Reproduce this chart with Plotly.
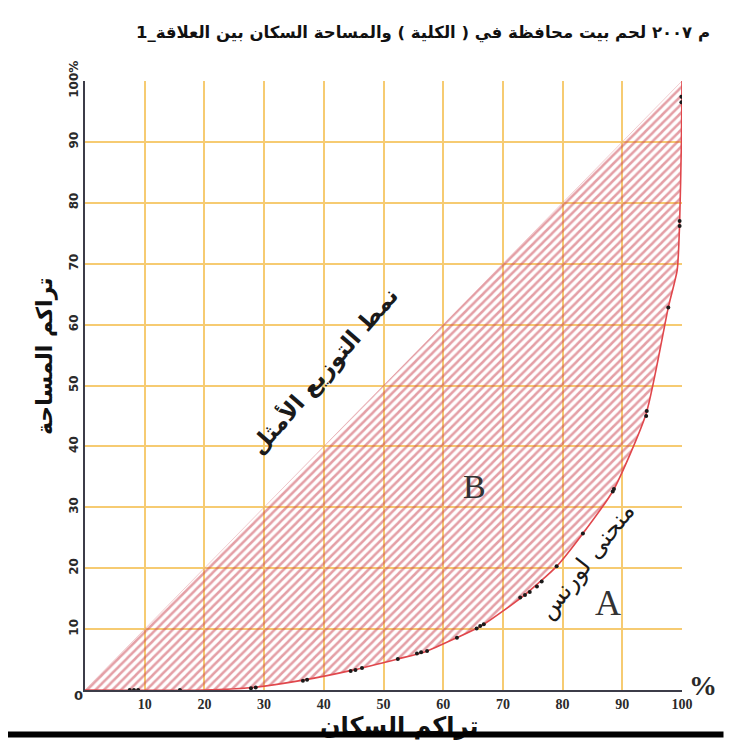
import plotly.graph_objects as go

# Lorenz curve (cumulative population %, cumulative area %)
curve_x = [0, 20, 28, 37, 45, 52.4, 57, 62.3, 66.5, 73.5, 79, 83.4, 88.5, 94, 97.7, 99.2, 99.6, 99.9, 100]
curve_y = [0, 0, 0.4, 1.7, 3.3, 5.1, 6.3, 8.6, 10.6, 15.5, 20.3, 25.7, 32.8, 45.4, 62.8, 69, 76.6, 90, 100]

# observed locality points (black dots)
dots_x = [7.5, 8.2, 8.9, 15.9, 27.8, 28.6, 36.5, 37.2, 44.5, 45.3, 46.4, 52.4, 55.6, 56.3, 57.3,
          62.3, 65.6, 66.2, 66.8, 72.9, 73.7, 74.5, 75.7, 76.5, 79.0, 83.4, 88.4, 88.6, 94.0, 94.1,
          97.7, 99.6, 99.6, 99.9, 99.9]
dots_y = [0, 0, 0, 0, 0.3, 0.4, 1.5, 1.7, 3.1, 3.3, 3.6, 5.1, 6.0, 6.2, 6.4,
          8.6, 10.1, 10.5, 10.8, 15.2, 15.6, 16.1, 17.0, 17.8, 20.3, 25.7, 32.6, 33.0, 45.0, 45.8,
          62.8, 76.2, 77.0, 96.5, 97.4]

# line of equality
equal_x = [0, 100]
equal_y = [0, 100]

tick_vals = [10, 20, 30, 40, 50, 60, 70, 80, 90, 100]
x_tick_text = ["10", "20", "30", "40", "50", "60", "70", "80", "90", "100"]
y_tick_text = ["10", "20", "30", "40", "50", "60", "70", "80", "90", "100%"]

# title words as they appear from right to left in the reference picture
title_words = ["م", "٢٠٠٧", "لحم", "بيت", "محافظة", "في", "(", "الكلية", ")", "والمساحة", "السكان", "بين", "العلاقة_1"]
title_text = " ".join(title_words)

fig = go.Figure()

fig.add_trace(go.Scatter(
    x=curve_x, y=curve_y, mode="lines",
    line=dict(color="#E0474C", width=1.6, shape="spline", smoothing=0.6),
    hoverinfo="skip", showlegend=False))

fig.add_trace(go.Scatter(
    x=equal_x, y=equal_y, mode="lines",
    line=dict(color="rgba(210,90,100,0.5)", width=0.6),
    fill="tonexty", fillcolor="rgba(0,0,0,0)",
    fillpattern=dict(shape="/", fgcolor="#C9404D", bgcolor="rgba(0,0,0,0)", size=6, solidity=0.42),
    hoverinfo="skip", showlegend=False))

fig.add_trace(go.Scatter(
    x=dots_x, y=dots_y, mode="markers",
    marker=dict(color="#1a1a1a", size=4),
    hoverinfo="skip", showlegend=False))

grid_col = "#F6CB72"

fig.update_layout(
    width=732, height=742,
    margin=dict(l=77, r=58, t=73, b=60),
    paper_bgcolor="white", plot_bgcolor="white",
    xaxis=dict(range=[0, 100], tickvals=tick_vals, ticktext=x_tick_text,
               showgrid=True, gridcolor=grid_col, gridwidth=1.5,
               showline=True, linecolor="#3c3c48", linewidth=2, zeroline=False,
               ticks="", ticklen=0,
               tickfont=dict(family="Liberation Serif", size=14, color="#2a2a2a", weight="bold")),
    yaxis=dict(range=[0, 100], tickvals=tick_vals, ticktext=y_tick_text,
               showgrid=True, gridcolor=grid_col, gridwidth=1.5,
               showline=True, linecolor="#3c3c48", linewidth=2, zeroline=False,
               ticks="", ticklen=0, tickangle=-90,
               tickfont=dict(family="DejaVu Sans", size=12, color="#2a2a2a", weight="bold")),
)

# page-pixel helpers (plot area spans x 85..682, y 81..690 on the page)
plot_l, plot_r, plot_t, plot_b = 85, 682, 81, 690

def pap_x(p):
    return (p - plot_l) / (plot_r - plot_l)

def pap_y(p):
    return (plot_b - p) / (plot_b - plot_t)

fig.add_annotation(text=title_text, x=pap_x(712), y=pap_y(33), xref="paper", yref="paper",
                   xanchor="right", yanchor="middle", showarrow=False,
                   font=dict(family="DejaVu Sans", size=16.5, color="#111", weight="bold"))

fig.add_annotation(text="تراكم المساحة", x=pap_x(30), y=pap_y(356), xref="paper", yref="paper",
                   textangle=-90, showarrow=False,
                   font=dict(family="DejaVu Sans", size=22, color="#111", weight="bold"))

fig.add_annotation(text="0", x=pap_x(72), y=pap_y(705), xref="paper", yref="paper",
                   showarrow=False,
                   font=dict(family="DejaVu Sans", size=13, color="#2a2a2a", weight="bold"))

fig.add_annotation(text="%", x=pap_x(719), y=pap_y(703), xref="paper", yref="paper",
                   showarrow=False,
                   font=dict(family="Liberation Serif", size=28, color="#2a2a2a", weight="bold"))

fig.add_annotation(text="نمط التوزيع الأمثل", x=40.0, y=52.4, textangle=-49, showarrow=False,
                   font=dict(family="DejaVu Sans", size=23, color="#1a1a1a", weight="bold"))

fig.add_annotation(text="منحنى لورنس", x=84.0, y=21.2, textangle=-52, showarrow=False,
                   font=dict(family="DejaVu Sans", size=24, color="#1a1a1a"))

fig.add_annotation(text="B", x=65.3, y=33.4, showarrow=False,
                   font=dict(family="Liberation Serif", size=34, color="#333"))

fig.add_annotation(text="A", x=87.6, y=14.3, showarrow=False,
                   font=dict(family="Liberation Serif", size=36, color="#333"))

fig.add_annotation(text="تراكم السكان", x=pap_x(399), y=pap_y(742), xref="paper", yref="paper",
                   showarrow=False,
                   font=dict(family="DejaVu Sans", size=24, color="#111", weight="bold"))

# black rule at the bottom (drawn over the x title)
fig.add_annotation(text=" ", x=pap_x(0), y=pap_y(734.5), xref="paper", yref="paper",
                   xanchor="left", yanchor="middle", showarrow=False,
                   width=722, height=5, bgcolor="#000000", borderpad=0,
                   font=dict(size=1))

fig.write_html("out.html")
